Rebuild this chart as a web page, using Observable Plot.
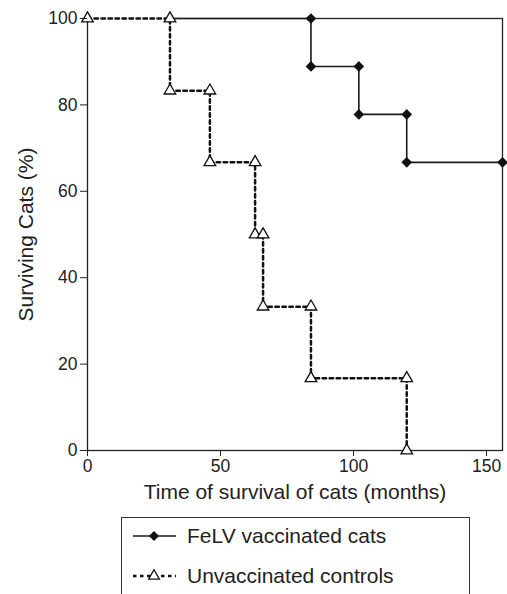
<!DOCTYPE html>
<html><head><meta charset="utf-8">
<script src="https://cdn.jsdelivr.net/npm/d3@7"></script>
<script src="https://cdn.jsdelivr.net/npm/@observablehq/plot@0.6"></script>
<style>
body{margin:0;background:#fff;font-family:"Liberation Sans",Arial,sans-serif;overflow:hidden}
#wrap{position:relative;width:507px;height:594px;overflow:hidden}
#legend{position:absolute;left:121px;top:517px;width:349px;height:110px;border:1.3px solid #333;box-sizing:border-box;background:#fff}
.row{position:absolute;left:0;height:30px;display:flex;align-items:center;font-size:21px;color:#222;white-space:nowrap}
.row svg{display:block;margin-right:9px}
g[aria-label="x-axis label"], g[aria-label="y-axis label"]{font-size:21px}
</style></head><body><div id="wrap"><div id="chart"></div><div id="legend"></div></div>
<script>
const vaccinatedMonths = [0, 84, 102, 120, 156];
const vaccinatedSurvival = [100, 88.9, 77.8, 66.7, 66.7];
const controlMonths = [0, 31, 46, 63, 66, 84, 120];
const controlSurvival = [100, 83.3, 66.7, 50, 33.3, 16.7, 0];
const xTicks = [0, 50, 100, 150];
const yTicks = [0, 20, 40, 60, 80, 100];
const seriesNames = ["FeLV vaccinated cats", "Unvaccinated controls"];
const xLabel = "Time of survival of cats (months)";
const yLabel = "Surviving Cats (%)";

const toRows = (t, s) => t.map((m, i) => ({t: m, s: s[i]}));
function stepMarkers(t, s, includeStart) {
  const out = [];
  t.forEach((m, i) => {
    if (i === 0) { if (includeStart) out.push({t: m, s: s[0]}); return; }
    out.push({t: m, s: s[i - 1]});
    if (s[i] !== s[i - 1]) out.push({t: m, s: s[i]});
  });
  return out;
}
const vac = toRows(vaccinatedMonths, vaccinatedSurvival);
const ctrl = toRows(controlMonths, controlSurvival);
const vacMarks = stepMarkers(vaccinatedMonths, vaccinatedSurvival, false);
const ctrlMarks = stepMarkers(controlMonths, controlSurvival, true);

const ink = "#1a1a1a";
const dash = "3.5,3.5";
const chart = Plot.plot({
  width: 507,
  height: 505,
  marginLeft: 87,
  marginRight: 5,
  marginTop: 18,
  marginBottom: 55,
  style: {fontFamily: "'Liberation Sans', Arial, sans-serif", fontSize: "17.5px", color: "#222", background: "white"},
  x: {domain: [0, 156]},
  y: {domain: [0, 100]},
  marks: [
    Plot.frame({stroke: "#222", strokeWidth: 1.3}),
    Plot.line(vac, {x: "t", y: "s", curve: "step-after", stroke: ink, strokeWidth: 1.6}),
    Plot.line(ctrl, {x: "t", y: "s", curve: "step-after", stroke: "white", strokeWidth: 3.5}),
    Plot.line(ctrl, {x: "t", y: "s", curve: "step-after", stroke: "#111", strokeWidth: 2.5, strokeDasharray: dash}),
    Plot.dot(vacMarks, {x: "t", y: "s", symbol: "diamond2", r: 4.8, fill: "#111", stroke: "none"}),
    Plot.dot(ctrlMarks, {x: "t", y: "s", symbol: "triangle", r: 4.3, fill: "white", stroke: "#111", strokeWidth: 1.3}),
    Plot.axisX({ticks: xTicks, tickSize: 6, tickPadding: 3, label: xLabel, labelAnchor: "center", labelArrow: "none", labelOffset: 48}),
    Plot.axisY({ticks: yTicks, tickSize: 7, tickPadding: 3, label: yLabel, labelAnchor: "center", labelArrow: "none", labelOffset: 69})
  ]
});
document.getElementById("chart").appendChild(chart);

// legend
const legend = document.getElementById("legend");
const samples = [
  (svg) => {
    svg.append("line").attr("x1", 0).attr("x2", 43).attr("y1", 15).attr("y2", 15).attr("stroke", ink).attr("stroke-width", 1.6);
    svg.append("path").attr("d", d3.symbol(d3.symbolDiamond2, 64)()).attr("transform", "translate(21,15)").attr("fill", "#111");
  },
  (svg) => {
    svg.append("line").attr("x1", 0).attr("x2", 43).attr("y1", 15).attr("y2", 15).attr("stroke", "#111").attr("stroke-width", 2.5).attr("stroke-dasharray", dash);
    svg.append("path").attr("d", d3.symbol(d3.symbolTriangle, 50)()).attr("transform", "translate(21,15)").attr("fill", "white").attr("stroke", "#111").attr("stroke-width", 1.3);
  }
];
seriesNames.forEach((name, i) => {
  const row = d3.select(legend).append("div").attr("class", "row")
    .style("top", (i === 0 ? 3 : 43) + "px").style("left", "11px");
  const svg = row.append("svg").attr("width", 45).attr("height", 30);
  samples[i](svg);
  row.append("span").text(name);
});
</script>
</body></html>
